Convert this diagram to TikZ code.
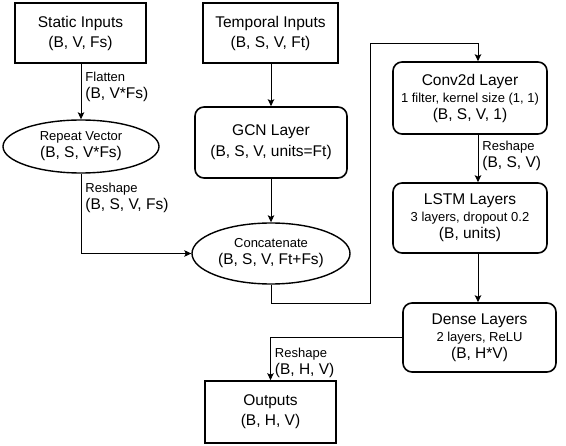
\documentclass[tikz,border=0pt]{standalone}
\usepackage{fontspec}
\setmainfont{Liberation Sans}
\usetikzlibrary{arrows,arrows.meta,shapes,positioning}
\newcommand{\smalltxt}{\fontsize{13bp}{15bp}\selectfont}

\begin{document}
\begin{tikzpicture}[x=1bp,y=-1bp,>={Stealth[length=7bp,width=6.5bp,inset=1.5bp]},
  font=\fontsize{15.5bp}{17bp}\selectfont,
  box/.style={draw,line width=1.6bp,align=center,inner sep=0pt},
  layerbox/.style={box,rounded corners=9bp},
  oval/.style={draw,ellipse,line width=1.4bp,align=center,inner sep=0pt},
  conn/.style={->,line width=0.9bp},
  lbl/.style={anchor=west,align=left,inner sep=0pt}]
  \useasboundingbox (0,0) rectangle (566,446);

  \node[box,minimum width=131bp,minimum height=60bp] (static) at (80.5,33) {Static Inputs\\[3bp](B, V, Fs)}; % inputs
  \node[box,minimum width=135bp,minimum height=60bp] (temporal) at (270.5,33) {Temporal Inputs\\[3bp](B, S, V, Ft)};

  \node[oval,minimum width=156bp,minimum height=53bp] (repeat) at (81,146.5) {{\smalltxt Repeat Vector}\\(B, S, V*Fs)};
  \node[layerbox,minimum width=152bp,minimum height=71bp] (gcn) at (271,142.5) {GCN Layer\\[4bp](B, S, V, units=Ft)};
  \node[oval,minimum width=158bp,minimum height=61bp] (concat) at (271,253.5) {{\smalltxt Concatenate}\\(B, S, V, Ft+Fs)};

  \node[layerbox,minimum width=154bp,minimum height=72bp] (conv) at (470,98) {Conv2d Layer\\{\smalltxt 1 filter, kernel size (1, 1)}\\(B, S, V, 1)};
  \node[layerbox,minimum width=154bp,minimum height=70bp] (lstm) at (470,218) {LSTM Layers\\{\smalltxt 3 layers, dropout 0.2}\\(B, units)};
  \node[layerbox,minimum width=153bp,minimum height=69bp] (dense) at (479.5,337.5) {Dense Layers\\{\smalltxt 2 layers, ReLU}\\(B, H*V)};
  \node[box,minimum width=131bp,minimum height=62bp] (outputs) at (270.5,412) {Outputs\\[3bp](B, H, V)}; % result

  \coordinate (jog1) at (370,303);
  \coordinate (jog2) at (478,43);

  \draw[conn] (static.south -| repeat.north) -- node[lbl,pos=0.42,right=4bp] (flattenlbl) {{\smalltxt Flatten}\\(B, V*Fs)} (repeat.north);
  \draw[conn] (temporal.south -| gcn.north) -- (gcn.north);
  \draw[conn] (repeat.south) |- node[lbl,pos=0.15,right=4bp] (reshapelbl) {{\smalltxt Reshape}\\(B, S, V, Fs)} (concat.west);
  \draw[conn] (gcn.south) -- (concat.north);
  \draw[conn] (concat.south) |- (jog1) |- (jog2) -- (jog2 |- conv.north);
  \draw[conn] (conv.south -| jog2) -- node[lbl,pos=0.45,right=4bp] (reshapelbl2) {{\smalltxt Reshape}\\(B, S, V)} (lstm.north -| jog2);
  \draw[conn] (lstm.south -| jog2) -- (dense.north -| jog2);
  \draw[conn] (dense.west) -| node[lbl,pos=0.8,right=4bp] (reshapelbl3) {{\smalltxt Reshape}\\(B, H, V)} (outputs.north);
\end{tikzpicture}
\end{document}
